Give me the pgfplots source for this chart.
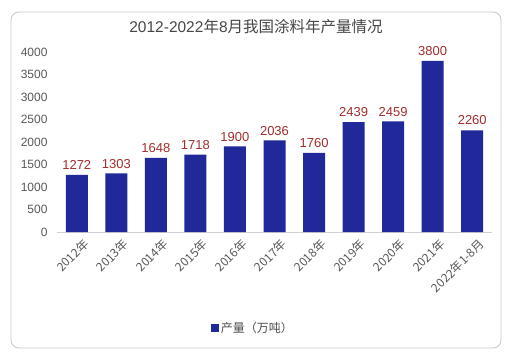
\documentclass[border=0pt]{standalone}
\usepackage{pgfplots}
\pgfplotsset{compat=1.18}
\usepackage{fontspec}
\setmainfont{Liberation Sans}
\newfontfamily\cjk{Noto Sans CJK SC}
\definecolor{barblue}{RGB}{32,40,154}
\definecolor{lblred}{RGB}{165,45,45}
\definecolor{tickgray}{RGB}{89,89,89}
\begin{document}
\begin{tikzpicture}[x=1pt,y=1pt]
\useasboundingbox (0,0) rectangle (508,356);
\draw[rounded corners=8pt, draw=black!22, line width=0.8pt, fill=white] (11,8) rectangle (501,344);
\node[font=\fontsize{15.5}{18}\selectfont, text=black!72] at (256,329) {2012-2022{\cjk 年}8{\cjk 月我国涂料年产量情况}};
\begin{axis}[
  at={(57pt,124pt)}, anchor=south west,
  scale only axis, width=435pt, height=180pt,
  xmin=-0.5, xmax=10.5, ymin=0, ymax=4000,
  ytick={0,500,...,4000},
  xtick={0,...,10},
  xticklabels={2012年,2013年,2014年,2015年,2016年,2017年,2018年,2019年,2020年,2021年,2022年1-8月},
  axis x line*=bottom, axis y line*=left,
  y axis line style={draw=none},
  x axis line style={draw=black!18, line width=0.8pt, -},
  major tick length=0pt,
  /pgf/number format/assume math mode=true,
  /pgf/number format/1000 sep={},
  tick label style={font=\fontsize{12}{14}\selectfont, text=tickgray},
  yticklabel style={xshift=-6pt},
  xticklabel style={font=\cjk\fontsize{12}{14}\selectfont, rotate=45, anchor=north east, inner sep=1pt, xshift=1pt, yshift=-7pt},
  ybar, bar width=22pt,
  nodes near coords,
  every node near coord/.append style={font=\fontsize{13}{15}\selectfont, text=lblred, inner sep=2pt, yshift=3pt},
  legend style={at={(0.45,-0.533)}, anchor=center, draw=none, fill=none, font=\cjk\fontsize{12}{14}\selectfont, text=black!70},
  legend image code/.code={\fill[barblue] (0pt,-4pt) rectangle (8pt,4pt);},
]
\addplot[fill=barblue, draw=none] coordinates {(0,1272) (1,1303) (2,1648) (3,1718) (4,1900) (5,2036) (6,1760) (7,2439) (8,2459) (9,3800) (10,2260)};
\addlegendentry{产量（万吨）}
\end{axis}
\end{tikzpicture}
\end{document}
